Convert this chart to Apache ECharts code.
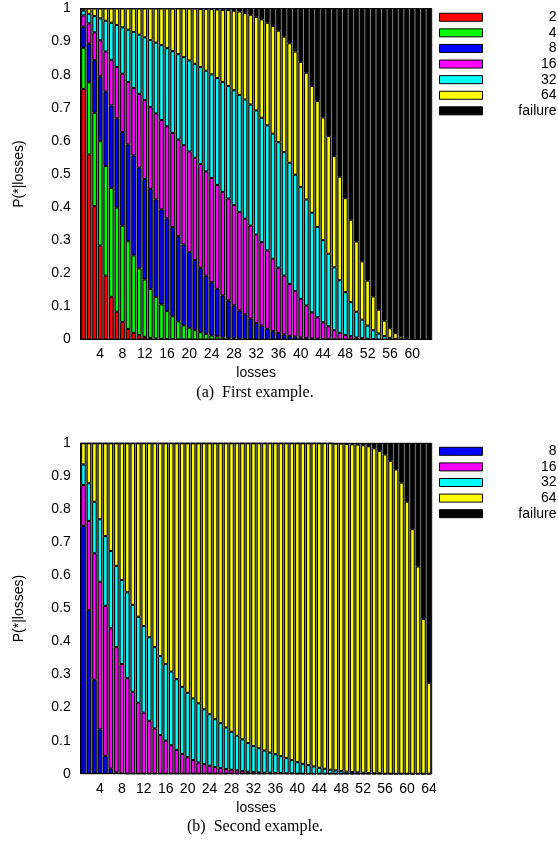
<!DOCTYPE html>
<html>
<head>
<meta charset="utf-8">
<script src="https://cdn.jsdelivr.net/npm/echarts@6/dist/echarts.min.js"></script>
<style>
  html, body { margin: 0; padding: 0; background: #fff; }
  #chart { width: 558px; height: 845px; }
</style>
</head>
<body>
<div id="chart"></div>
<script>
// losses on the x axis
var lossesA = [1,2,3,4,5,6,7,8,9,10,11,12,13,14,15,16,17,18,19,20,21,22,23,24,25,26,27,28,29,30,31,32,
  33,34,35,36,37,38,39,40,41,42,43,44,45,46,47,48,49,50,51,52,53,54,55,56,57,58,59,60,61,62,63];
var lossesB = [1,2,3,4,5,6,7,8,9,10,11,12,13,14,15,16,17,18,19,20,21,22,23,24,25,26,27,28,29,30,31,32,
  33,34,35,36,37,38,39,40,41,42,43,44,45,46,47,48,49,50,51,52,53,54,55,56,57,58,59,60,61,62,63,64];
var tickLabelsA = [4,8,12,16,20,24,28,32,36,40,44,48,52,56,60];
var tickLabelsB = [4,8,12,16,20,24,28,32,36,40,44,48,52,56,60,64];

// (a) cumulative top of each window size
var upTo2A = [0.757,0.559,0.403,0.284,0.193,0.129,0.084,0.053,0.032,0.020,0.013,0.008,0.005,0.003,0.002,0.001,0.001,
  0,0,0,0,0,0,0,0,0,0,0,0,0,0,0,0,0,0,0,0,0,0,0,0,0,0,0,0,0,0,0,0,0,0,0,0,0,0,0,0,0,0,0,0,0,0];
var upTo4A = [0.881,0.777,0.685,0.599,0.524,0.458,0.398,0.344,0.297,0.254,0.215,0.181,0.153,0.128,0.106,0.086,0.070,
  0.055,0.043,0.035,0.028,0.022,0.017,0.012,0.009,0.006,0.004,0.003,0.002,0.001,
  0,0,0,0,0,0,0,0,0,0,0,0,0,0,0,0,0,0,0,0,0,0,0,0,0,0,0,0,0,0,0,0,0];
var upTo8A = [0.945,0.894,0.844,0.795,0.749,0.707,0.668,0.627,0.589,0.556,0.519,0.485,0.455,0.423,0.393,0.366,0.340,
  0.312,0.287,0.264,0.240,0.217,0.193,0.173,0.153,0.133,0.118,0.103,0.088,0.076,0.063,0.050,0.042,0.032,0.025,
  0.020,0.015,0.011,0.009,0.006,0.004,0.003,0.002,0.001,0.001,0,0,0,0,0,0,0,0,0,0,0,0,0,0,0,0,0,0];
var upTo16A = [0.979,0.955,0.928,0.904,0.870,0.845,0.823,0.803,0.778,0.760,0.742,0.723,0.702,0.683,0.663,0.644,
  0.624,0.604,0.587,0.568,0.549,0.530,0.508,0.488,0.467,0.446,0.426,0.406,0.385,0.365,0.344,0.317,0.294,0.269,
  0.244,0.217,0.193,0.168,0.146,0.123,0.103,0.082,0.067,0.052,0.040,0.028,0.020,0.014,0.010,0.006,0.004,0.002,
  0.001,0,0,0,0,0,0,0,0,0,0];
var upTo32A = [0.994,0.984,0.977,0.970,0.963,0.957,0.950,0.943,0.936,0.929,0.921,0.913,0.905,0.897,0.889,0.880,
  0.871,0.862,0.853,0.843,0.833,0.823,0.812,0.801,0.790,0.778,0.766,0.753,0.739,0.725,0.710,0.692,0.670,0.647,
  0.622,0.596,0.566,0.534,0.498,0.461,0.423,0.383,0.340,0.300,0.259,0.218,0.179,0.143,0.113,0.084,0.060,0.042,
  0.028,0.018,0.010,0.005,0.002,0.001,0,0,0,0,0];
var upTo64A = [1,1,1,1,1,1,1,1,1,1,1,1,1,1,1,1,1,1,1,1,1,0.999,0.999,0.998,0.997,0.996,0.995,0.993,0.991,0.987,
  0.981,0.975,0.967,0.957,0.947,0.933,0.915,0.895,0.870,0.839,0.806,0.766,0.721,0.671,0.615,0.554,0.492,0.427,
  0.362,0.296,0.236,0.178,0.130,0.090,0.057,0.034,0.019,0.009,0.004,0.001,0,0,0];

// (b)
var upTo8B = [0.750,0.495,0.284,0.134,0.054,0.016,0.004,0.001,
  0,0,0,0,0,0,0,0,0,0,0,0,0,0,0,0,0,0,0,0,0,0,0,0,0,0,0,0,0,0,0,0,0,0,0,0,0,0,0,0,0,0,0,0,0,0,0,0,0,0,0,0,0,0,0,0];
var upTo16B = [0.874,0.765,0.667,0.581,0.508,0.440,0.383,0.332,0.289,0.248,0.215,0.185,0.160,0.137,0.117,0.100,
  0.086,0.072,0.060,0.050,0.041,0.034,0.029,0.024,0.020,0.017,0.014,0.012,0.010,0.008,0.006,0.005,0.004,0.003,
  0.003,0.002,0.002,0.001,0.001,0,0,0,0,0,0,0,0,0,0,0,0,0,0,0,0,0,0,0,0,0,0,0,0,0];
var upTo32B = [0.936,0.879,0.823,0.770,0.719,0.674,0.629,0.586,0.549,0.511,0.475,0.447,0.413,0.383,0.356,0.332,
  0.309,0.286,0.263,0.245,0.228,0.213,0.195,0.180,0.165,0.153,0.140,0.127,0.115,0.104,0.093,0.084,0.077,0.070,
  0.064,0.059,0.053,0.047,0.041,0.035,0.030,0.026,0.022,0.018,0.015,0.012,0.010,0.008,0.006,0.005,0.004,0.003,
  0.002,0.001,0.001,0,0,0,0,0,0,0,0,0];
var upTo64B = [1,1,1,1,1,1,1,1,1,1,1,1,1,1,1,1,1,1,1,1,1,1,1,1,1,1,1,1,1,1,1,1,1,1,1,1,1,1,1,1,1,1,1,1,1,1,
  0.999,0.999,0.998,0.997,0.996,0.994,0.991,0.985,0.977,0.966,0.947,0.921,0.881,0.823,0.740,0.627,0.468,0.275];

var namesA = ['2', '4', '8', '16', '32', '64', 'failure'];
var namesB = ['8', '16', '32', '64', 'failure'];
var colorOf = {
  '2': '#ff0000', '4': '#00ff00', '8': '#0000ff', '16': '#ff00ff',
  '32': '#00ffff', '64': '#ffff00', 'failure': '#000000'
};

var FONT = 'Liberation Sans, Arial, sans-serif';

// turn cumulative tops into stacked pieces, failure fills up to 1
var pieces = function (cums) {
  var out = [];
  cums.forEach(function (cum, s) {
    out.push(cum.map(function (v, i) {
      return +(v - (s ? cums[s - 1][i] : 0)).toFixed(3);
    }));
  });
  out.push(cums[cums.length - 1].map(function (v) { return +(1 - v).toFixed(3); }));
  return out;
};

var makeSeries = function (names, cums, idx) {
  var data = pieces(cums);
  return names.map(function (n, k) {
    return {
      name: n, type: 'bar', stack: 's' + idx,
      xAxisIndex: idx, yAxisIndex: idx,
      barCategoryGap: '18%',
      itemStyle: { color: colorOf[n], borderColor: '#000', borderWidth: 1 },
      emphasis: { disabled: true },
      animation: false,
      data: data[k]
    };
  });
};

var xAxisOf = function (idx, cats, ticks) {
  return {
    type: 'category', gridIndex: idx, data: cats,
    name: 'losses', nameLocation: 'middle', nameGap: 27,
    nameTextStyle: { fontFamily: FONT, fontSize: 14, color: '#000' },
    axisLine: { lineStyle: { color: '#000', width: 1 } },
    axisTick: { show: false },
    axisLabel: {
      interval: function (i, v) { return ticks.indexOf(+v) >= 0; },
      margin: 8, fontFamily: FONT, fontSize: 14, color: '#000'
    }
  };
};
var yAxisOf = function (idx) {
  return {
    type: 'value', gridIndex: idx, min: 0, max: 1, interval: 0.1,
    name: 'P(*|losses)', nameLocation: 'middle', nameGap: 55,
    nameTextStyle: { fontFamily: FONT, fontSize: 14, color: '#000' },
    axisLine: { show: true, lineStyle: { color: '#000', width: 1 } },
    axisTick: { show: false },
    splitLine: { show: false },
    axisLabel: { margin: 10, fontFamily: FONT, fontSize: 14, color: '#000' }
  };
};
// legend has 5px padding by default, so the box starts 5px inside left/top
var legendOf = function (names, top) {
  return {
    data: names, left: 434, top: top, orient: 'vertical',
    icon: 'rect', itemWidth: 43, itemHeight: 8, itemGap: 1.6, itemTextGap: 5,
    selectedMode: false,
    itemStyle: { borderColor: '#000', borderWidth: 1 },
    formatter: '{t|{name}}',
    textStyle: {
      rich: { t: { width: 69, align: 'right', fontFamily: FONT, fontSize: 14, lineHeight: 14, color: '#000' } }
    }
  };
};
var captionOf = function (text, top) {
  return {
    text: text, left: 255, top: top, textAlign: 'center', padding: 0,
    textStyle: { fontFamily: 'Liberation Serif, Times New Roman, serif', fontSize: 16, fontWeight: 'normal', color: '#000' }
  };
};

var chart = echarts.init(document.getElementById('chart'), null, { renderer: 'canvas' });
chart.setOption({
  animation: false,
  backgroundColor: '#fff',
  title: [captionOf('(a)  First example.', 385), captionOf('(b)  Second example.', 819)],
  legend: [legendOf(namesA, 5.25), legendOf(namesB, 439.3)],
  grid: [
    { left: 80.7, width: 351, top: 8.5, height: 331, show: true, backgroundColor: '#888', borderColor: '#000', borderWidth: 1 },
    { left: 80.7, width: 351, top: 443.3, height: 330.4, show: true, backgroundColor: '#888', borderColor: '#000', borderWidth: 1 }
  ],
  xAxis: [xAxisOf(0, lossesA, tickLabelsA), xAxisOf(1, lossesB, tickLabelsB)],
  yAxis: [yAxisOf(0), yAxisOf(1)],
  series: makeSeries(namesA, [upTo2A, upTo4A, upTo8A, upTo16A, upTo32A, upTo64A], 0)
    .concat(makeSeries(namesB, [upTo8B, upTo16B, upTo32B, upTo64B], 1))
});
</script>
</body>
</html>
